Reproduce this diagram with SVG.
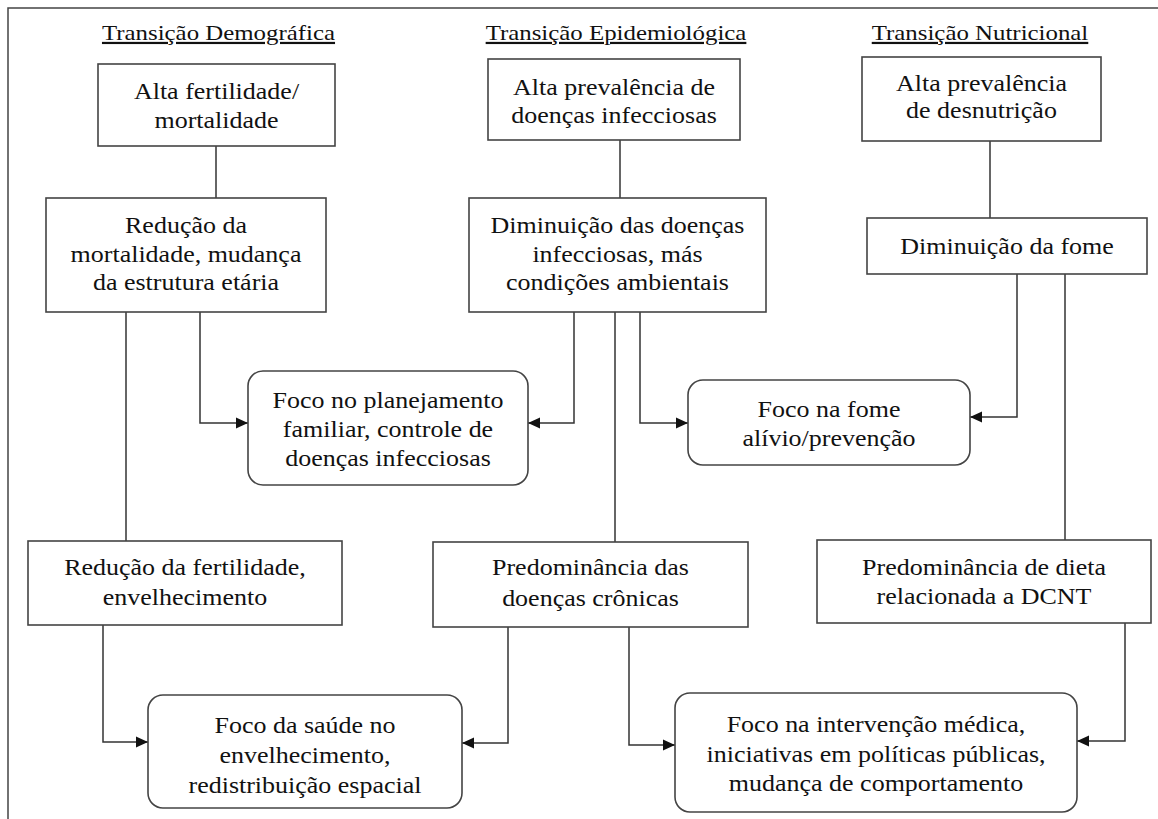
<svg xmlns="http://www.w3.org/2000/svg" width="1158" height="819" viewBox="0 0 1158 819">
<style>
.bg{fill:#ffffff}
.frame{fill:none;stroke:#444;stroke-width:1.5}
.box{fill:#ffffff;stroke:#444;stroke-width:1.6}
.t{font-family:"Liberation Serif","Times New Roman",serif;font-size:23px;fill:#111;text-anchor:middle}
.h{font-family:"Liberation Serif","Times New Roman",serif;font-size:22px;fill:#111;text-anchor:middle;text-decoration:underline}
.c{fill:none;stroke:#333;stroke-width:1.5}
</style>
<defs>
<marker id="ah" markerUnits="userSpaceOnUse" markerWidth="13" markerHeight="12" refX="12" refY="6" orient="auto">
<path d="M0,0.5 L12,6 L0,11.5 z" fill="#111"/>
</marker>
</defs>
<rect class="bg" x="0" y="0" width="1158" height="819"/>
<rect class="frame" x="8" y="8" width="1170" height="830"/>

<g id="titles">
<text class="h" transform="matrix(1.13 0 0 1 218.5 0)"><tspan x="0" y="40">Transição Demográfica</tspan></text>
<text class="h" transform="matrix(1.13 0 0 1 616 0)"><tspan x="0" y="40">Transição Epidemiológica</tspan></text>
<text class="h" transform="matrix(1.13 0 0 1 980 0)"><tspan x="0" y="40">Transição Nutricional</tspan></text>
</g>

<g id="connectors">
<path class="c" d="M216,146 V198"/>
<path class="c" d="M620,140 V198"/>
<path class="c" d="M990,141 V218"/>
<path class="c" d="M200,312 V423 H248" marker-end="url(#ah)"/>
<path class="c" d="M574,312 V423 H528" marker-end="url(#ah)"/>
<path class="c" d="M640,312 V423 H688" marker-end="url(#ah)"/>
<path class="c" d="M1017,274 V417 H970" marker-end="url(#ah)"/>
<path class="c" d="M126,312 V541"/>
<path class="c" d="M615,312 V542"/>
<path class="c" d="M1065,274 V540"/>
<path class="c" d="M103,625 V742 H148" marker-end="url(#ah)"/>
<path class="c" d="M508,627 V743 H462" marker-end="url(#ah)"/>
<path class="c" d="M629,627 V745 H675" marker-end="url(#ah)"/>
<path class="c" d="M1125,623 V741 H1077" marker-end="url(#ah)"/>
</g>

<g id="dem1">
<rect class="box" x="98" y="64" width="237" height="82"/>
<text class="t" transform="matrix(1.13 0 0 1 216.5 0)"><tspan x="0" y="99">Alta fertilidade/</tspan><tspan x="0" y="128">mortalidade</tspan></text>
</g>
<g id="epi1">
<rect class="box" x="488" y="59" width="252" height="81"/>
<text class="t" transform="matrix(1.13 0 0 1 614 0)"><tspan x="0" y="95">Alta prevalência de</tspan><tspan x="0" y="123">doenças infecciosas</tspan></text>
</g>
<g id="nut1">
<rect class="box" x="862" y="57" width="239" height="84"/>
<text class="t" transform="matrix(1.13 0 0 1 981.5 0)"><tspan x="0" y="91">Alta prevalência</tspan><tspan x="0" y="118">de desnutrição</tspan></text>
</g>

<g id="dem2">
<rect class="box" x="46" y="198" width="280" height="114"/>
<text class="t" transform="matrix(1.13 0 0 1 186 0)"><tspan x="0" y="233">Redução da</tspan><tspan x="0" y="262">mortalidade, mudança</tspan><tspan x="0" y="290">da estrutura etária</tspan></text>
</g>
<g id="epi2">
<rect class="box" x="469" y="198" width="297" height="114"/>
<text class="t" transform="matrix(1.13 0 0 1 617.5 0)"><tspan x="0" y="233">Diminuição das doenças</tspan><tspan x="0" y="262">infecciosas, más</tspan><tspan x="0" y="290">condições ambientais</tspan></text>
</g>
<g id="nut2">
<rect class="box" x="867" y="218" width="280" height="56"/>
<text class="t" transform="matrix(1.13 0 0 1 1007 0)"><tspan x="0" y="254">Diminuição da fome</tspan></text>
</g>

<g id="foco1">
<rect class="box" x="248" y="371" width="280" height="114" rx="15" ry="15"/>
<text class="t" transform="matrix(1.13 0 0 1 388 0)"><tspan x="0" y="408">Foco no planejamento</tspan><tspan x="0" y="437">familiar, controle de</tspan><tspan x="0" y="466">doenças infecciosas</tspan></text>
</g>
<g id="foco2">
<rect class="box" x="688" y="380" width="282" height="85" rx="15" ry="15"/>
<text class="t" transform="matrix(1.13 0 0 1 829 0)"><tspan x="0" y="417">Foco na fome</tspan><tspan x="0" y="446">alívio/prevenção</tspan></text>
</g>

<g id="dem3">
<rect class="box" x="28" y="541" width="314" height="84"/>
<text class="t" transform="matrix(1.13 0 0 1 185 0)"><tspan x="0" y="575">Redução da fertilidade,</tspan><tspan x="0" y="605">envelhecimento</tspan></text>
</g>
<g id="epi3">
<rect class="box" x="433" y="542" width="315" height="85"/>
<text class="t" transform="matrix(1.13 0 0 1 590.5 0)"><tspan x="0" y="575">Predominância das</tspan><tspan x="0" y="606">doenças crônicas</tspan></text>
</g>
<g id="nut3">
<rect class="box" x="817" y="540" width="334" height="83"/>
<text class="t" transform="matrix(1.13 0 0 1 984 0)"><tspan x="0" y="575">Predominância de dieta</tspan><tspan x="0" y="604">relacionada a DCNT</tspan></text>
</g>

<g id="foco3">
<rect class="box" x="148" y="695" width="314" height="113" rx="15" ry="15"/>
<text class="t" transform="matrix(1.13 0 0 1 305 0)"><tspan x="0" y="733">Foco da saúde no</tspan><tspan x="0" y="763">envelhecimento,</tspan><tspan x="0" y="793">redistribuição espacial</tspan></text>
</g>
<g id="foco4">
<rect class="box" x="675" y="693" width="402" height="119" rx="15" ry="15"/>
<text class="t" transform="matrix(1.13 0 0 1 876 0)"><tspan x="0" y="732">Foco na intervenção médica,</tspan><tspan x="0" y="762">iniciativas em políticas públicas,</tspan><tspan x="0" y="791">mudança de comportamento</tspan></text>
</g>
</svg>
